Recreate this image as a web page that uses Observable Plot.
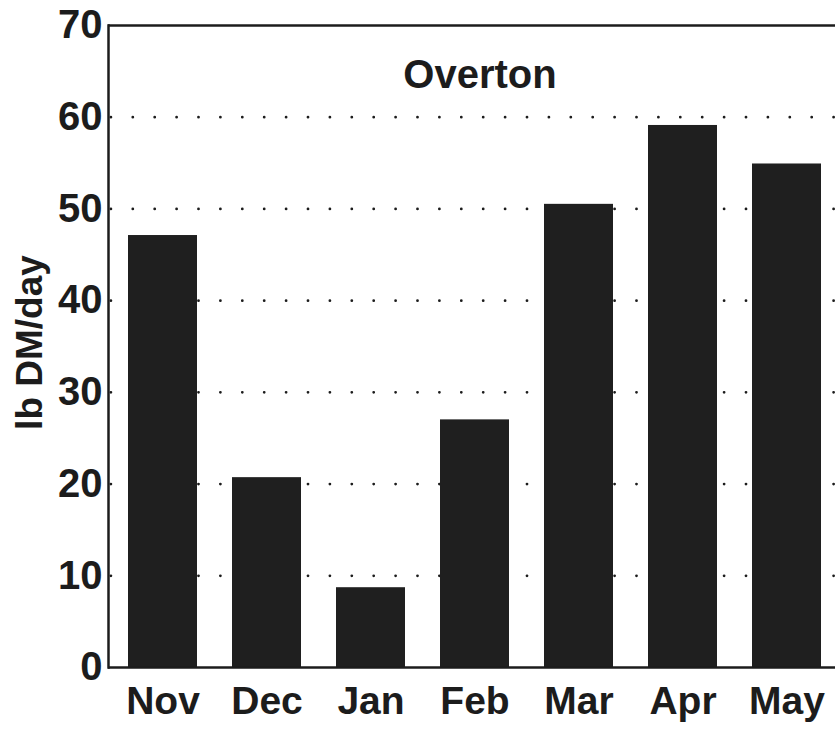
<!DOCTYPE html>
<html><head><meta charset="utf-8">
<script src="https://cdn.jsdelivr.net/npm/d3@7"></script>
<script src="https://cdn.jsdelivr.net/npm/@observablehq/plot@0.6"></script>
<style>body{margin:0;background:#fff}</style>
</head><body><div id="chart"></div>
<script>
const months = ["Nov", "Dec", "Jan", "Feb", "Mar", "Apr", "May"];
const values = [47.1, 20.7, 8.7, 27.0, 50.5, 59.1, 54.9];
const yTicks = [0, 10, 20, 30, 40, 50, 60, 70];
const gridValues = [10, 20, 30, 40, 50, 60];
const title = "Overton";
const yLabel = "lb DM/day";

const data = months.map((m, i) => ({month: m, value: values[i]}));
const ink = "#1c1c1c";

const chart = Plot.plot({
  width: 835,
  height: 730,
  marginLeft: 108,
  marginRight: 0,
  marginTop: 25,
  marginBottom: 63,
  style: {fontFamily: "'Liberation Sans', Arial, sans-serif", fontWeight: "bold", color: ink, background: "#fff"},
  x: {domain: months, range: [108, 841], paddingInner: 0.337, paddingOuter: 0.19, label: null},
  y: {domain: [0, 70], label: null},
  marks: [
    Plot.ruleY(gridValues, {stroke: ink, strokeWidth: 2.8, strokeDasharray: "0,21.9", strokeLinecap: "round", strokeDashoffset: 19}),
    Plot.barY(data, {x: "month", y: "value", fill: "#1f1f1f"}),
    Plot.ruleY([0, 70], {stroke: ink, strokeWidth: 2.5}),
    Plot.frame({anchor: "left", stroke: ink, strokeWidth: 2.5}),
    Plot.axisX({tickSize: 0, tickPadding: 19, fontSize: 39, fontWeight: "bold", label: null}),
    Plot.axisY({ticks: yTicks, tickSize: 0, tickPadding: 6, fontSize: 40, fontWeight: "bold", label: null}),
    Plot.text([title], {frameAnchor: "top", lineAnchor: "middle", textAnchor: "middle", dy: 50, dx: 8, fontSize: 40, fontWeight: "bold", fill: ink}),
    Plot.text([yLabel], {frameAnchor: "left", rotate: -90, textAnchor: "middle", lineAnchor: "middle", dx: -78, dy: -4, fontSize: 37, fontWeight: "bold", fill: ink})
  ]
});
document.getElementById("chart").append(chart);
</script>
</body></html>
